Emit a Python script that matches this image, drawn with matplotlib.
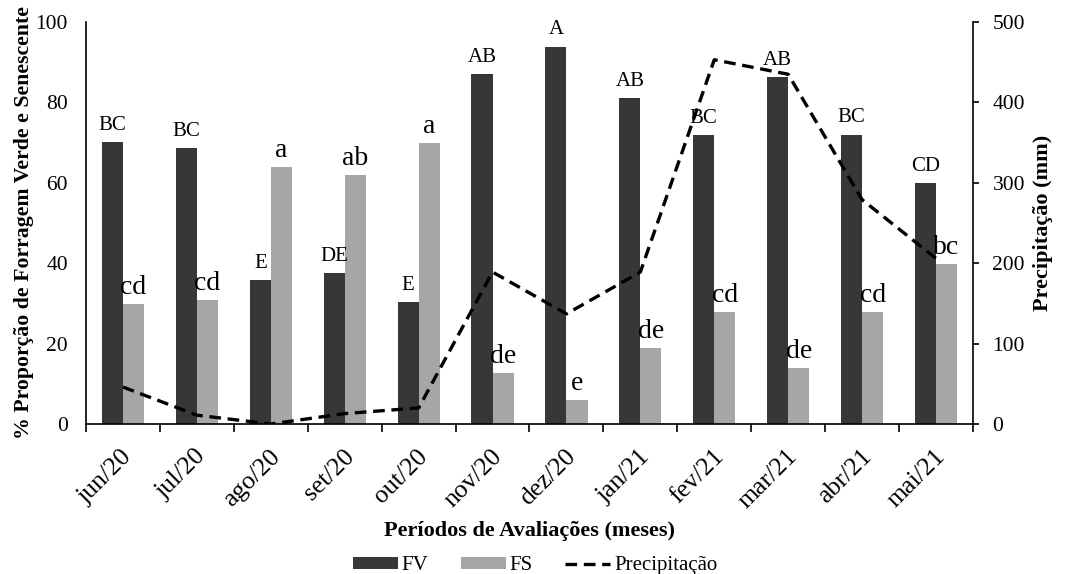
import matplotlib
matplotlib.use("Agg")
import matplotlib.pyplot as plt
import matplotlib.transforms as mtransforms
import numpy as np

plt.rcParams['font.family'] = ['Liberation Serif', 'DejaVu Serif']

meses = ['jun/20', 'jul/20', 'ago/20', 'set/20', 'out/20', 'nov/20',
         'dez/20', 'jan/21', 'fev/21', 'mar/21', 'abr/21', 'mai/21']
fv = [70.2, 68.6, 35.8, 37.6, 30.3, 87.1, 93.9, 81.1, 71.8, 86.3, 72.0, 59.9]
fs = [29.9, 30.9, 64.0, 61.9, 70.0, 12.8, 6.0, 18.8, 27.9, 13.9, 27.9, 39.8]
precip = [46, 11, 0, 13, 20, 189, 137, 189, 453, 435, 279, 206]
letras_fv = ['BC', 'BC', 'E', 'DE', 'E', 'AB', 'A', 'AB', 'BC', 'AB', 'BC', 'CD']
letras_fs = ['cd', 'cd', 'a', 'ab', 'a', 'de', 'e', 'de', 'cd', 'de', 'cd', 'bc']

fig = plt.figure(figsize=(10.7, 5.74), dpi=100)
ax = fig.add_axes([0.0804, 0.2613, 0.8289, 0.7004])

x = np.arange(len(meses))
w = 0.285
b1 = ax.bar(x - w / 2, fv, w, color='#383736', label='FV')
b2 = ax.bar(x + w / 2, fs, w, color='#a6a6a6', label='FS')

# letras de significancia
for xi, v, t in zip(x, fv, letras_fv):
    ax.text(xi - w / 2, v + 3.0, t, ha='center', va='baseline', fontsize=15)
for xi, v, t in zip(x, fs, letras_fs):
    ax.text(xi + w / 2, v + 2.5, t, ha='center', va='baseline', fontsize=20)

ax.set_xlim(-0.5, len(meses) - 0.5)
ax.set_ylim(0, 100)
ax.set_yticks([0, 20, 40, 60, 80, 100])
ax.tick_params(axis='y', length=0, labelsize=15.5, pad=13)
ax.set_xticks(x)
ax.set_xticklabels(meses, rotation=45, ha='right', va='center',
                   rotation_mode='anchor', fontsize=18.5)
ax.tick_params(axis='x', which='major', length=0, pad=21)
# desloca um pouco os rótulos para a direita
desloc = mtransforms.ScaledTranslation(0.06, 0, fig.dpi_scale_trans)
for lbl in ax.get_xticklabels():
    lbl.set_transform(lbl.get_transform() + desloc)
ax.set_xticks(np.arange(-0.5, len(meses)), minor=True)
ax.tick_params(axis='x', which='minor', length=6, width=1.2, direction='out')
ax.spines['top'].set_visible(False)
ax.spines['right'].set_visible(False)
ax.spines['left'].set_linewidth(1.2)
ax.spines['bottom'].set_linewidth(1.2)
ax.set_ylabel('% Proporção de Forragem Verde e Senescente', fontsize=15.7,
              fontweight='bold', labelpad=1)
ax.set_xlabel('Períodos de Avaliações (meses)', fontsize=16, fontweight='bold', labelpad=6)

ax2 = ax.twinx()
l1, = ax2.plot(x, precip, color='black', linestyle=(0, (3.5, 2)), linewidth=2.4,
               label='Precipitação')
ax2.set_ylim(0, 500)
ax2.set_yticks([0, 100, 200, 300, 400, 500])
ax2.tick_params(axis='y', length=4, width=1.2, labelsize=15.5, pad=10)
ax2.spines['top'].set_visible(False)
ax2.spines['left'].set_visible(False)
ax2.spines['bottom'].set_visible(False)
ax2.spines['right'].set_linewidth(1.2)
ax2.set_ylabel('Precipitação (mm)', fontsize=16, fontweight='bold', labelpad=6)

fig.legend([b1, b2, l1], ['FV', 'FS', 'Precipitação'], loc='lower center',
           bbox_to_anchor=(0.5, -0.035), ncol=3, frameon=False, fontsize=15,
           handlelength=2.15, handleheight=0.45, handletextpad=0.2,
           columnspacing=1.55)

fig.savefig('out.png', dpi=100)
